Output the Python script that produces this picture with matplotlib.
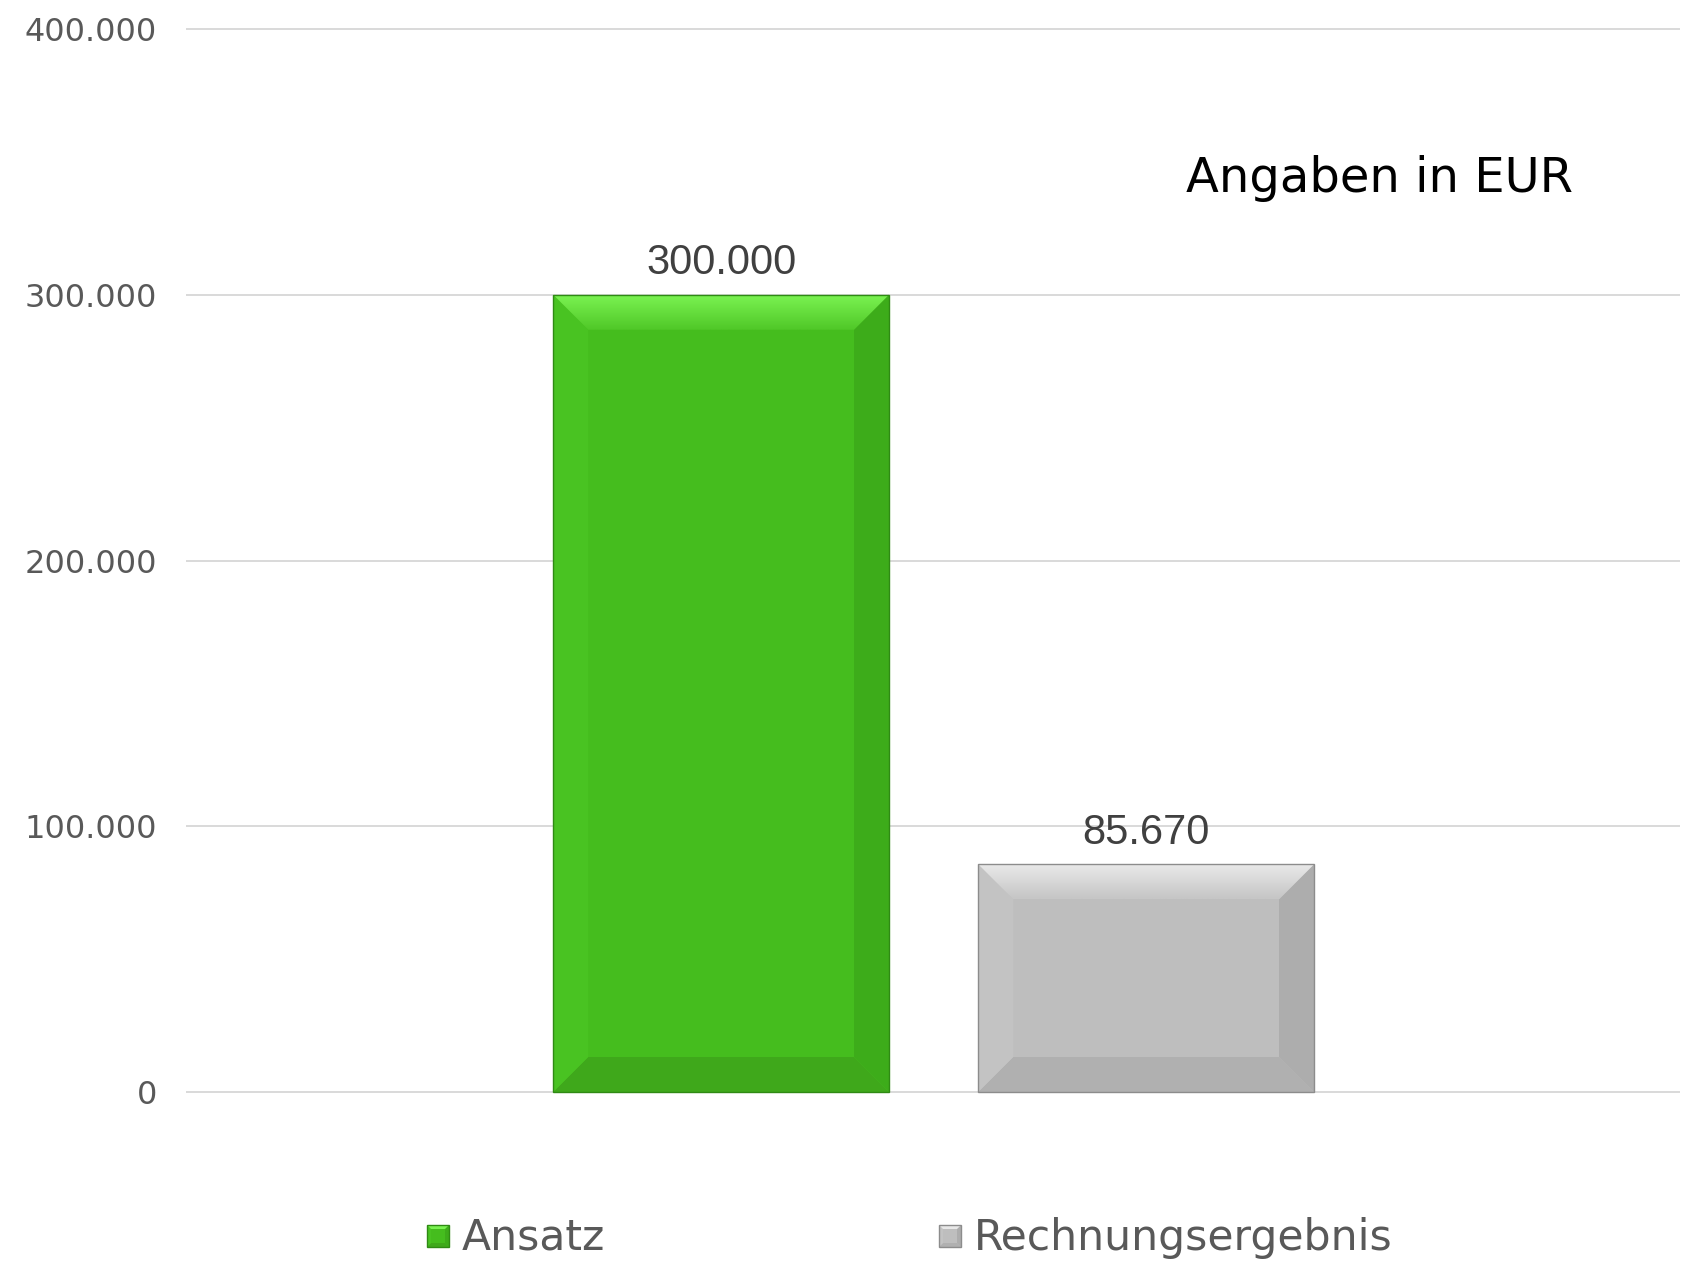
import numpy as np
import matplotlib.pyplot as plt
from matplotlib.colors import to_rgb
from matplotlib.patches import Polygon, Rectangle

series = ["Ansatz", "Rechnungsergebnis"]
values = [300000, 85670]
value_labels = ["300.000", "85.670"]
yticks = [0, 100000, 200000, 300000, 400000]
ytick_labels = ["0", "100.000", "200.000", "300.000", "400.000"]
unit_note = "Angaben in EUR"

# facet colours: center, top edge, top inner, bottom, left, right, outline
palettes = [
    ("#45bd1e", "#7af251", "#50c828", "#3fa81b", "#49c322", "#3dac1a", "#2f8a14"),
    ("#bebebe", "#e8e8e8", "#c6c6c6", "#b0b0b0", "#c3c3c3", "#adadad", "#8c8c8c"),
]

W, H = 1697, 1261
fig = plt.figure(figsize=(W / 100, H / 100), dpi=100)
plt.rcParams['font.family'] = ['DejaVu Sans']

# axes placement in pixels
x_left, x_right = 186, 1680
y_zero, y_top = 1092, 29
pad = 0.01
span = y_zero - y_top
ax = fig.add_axes([x_left / W, (H - y_zero - span * pad) / H,
                   (x_right - x_left) / W, span * (1 + 2 * pad) / H])
ax.set_ylim(-yticks[-1] * pad, yticks[-1] * (1 + pad))
ax.set_xlim(-1.259, 2.256)
ax.autoscale(False)

for s in ax.spines.values():
    s.set_visible(False)
ax.set_xticks([])
ax.set_yticks(yticks)
ax.set_yticklabels(ytick_labels, fontsize=23, color="#595959")
ax.tick_params(axis="y", length=0, pad=21)
ax.yaxis.grid(True, color="#d9d9d9", lw=1.4)
ax.set_axisbelow(True)

fig.canvas.draw()
inv = ax.transData.inverted()
p0 = inv.transform((0, 0))
p1 = inv.transform((35, 35))
bx, by = p1[0] - p0[0], p1[1] - p0[1]


def bevel(ax, x0, x1, y0, y1, bx, by, pal, z=2, grad=True):
    c, top_e, top_i, bot, lft, rgt, edge = pal
    ix0, ix1, iy0, iy1 = x0 + bx, x1 - bx, y0 + by, y1 - by
    ax.add_patch(Rectangle((x0, y0), x1 - x0, y1 - y0, fc=c, ec="none", zorder=z))
    ax.add_patch(Polygon([(x0, y0), (x1, y0), (ix1, iy0), (ix0, iy0)], fc=bot, ec="none", zorder=z + 1))
    ax.add_patch(Polygon([(x0, y0), (x0, y1), (ix0, iy1), (ix0, iy0)], fc=lft, ec="none", zorder=z + 1))
    ax.add_patch(Polygon([(x1, y0), (x1, y1), (ix1, iy1), (ix1, iy0)], fc=rgt, ec="none", zorder=z + 1))
    top = Polygon([(x0, y1), (x1, y1), (ix1, iy1), (ix0, iy1)], fc=top_e if not grad else "none",
                  ec="none", zorder=z + 1)
    ax.add_patch(top)
    if grad:
        t = np.linspace(0, 1, 32)[:, None]
        g = (1 - t) * np.array(to_rgb(top_i)) + t * np.array(to_rgb(top_e))
        im = ax.imshow(g[:, None, :], extent=(x0, x1, iy1, y1), origin="lower",
                       aspect="auto", interpolation="bilinear", zorder=z + 1)
        im.set_clip_path(top)
    ax.add_patch(Rectangle((x0, y0), x1 - x0, y1 - y0, fc="none", ec=edge, lw=1.0, zorder=z + 2))


width = 0.79
for i, (v, lab) in enumerate(zip(values, value_labels)):
    bevel(ax, i - width / 2, i + width / 2, 0, v, bx, by, palettes[i])
    ax.annotate(lab, (i, v), xytext=(0, 8.5), textcoords="offset points",
                ha="center", va="bottom", fontsize=30, color="#404040",
                family=["Liberation Sans", "DejaVu Sans"])

fig.text(1186 / W, 1 - 178 / H, unit_note, fontsize=34.6, color="black",
         ha="left", va="center")

# legend drawn by hand with bevelled swatches (y axis runs downward here)
lax = fig.add_axes([0, 0, 1, 1], zorder=-1)
lax.set_xlim(0, W)
lax.set_ylim(H, 0)
lax.axis("off")
for (sx, tx), name, pal in zip([(427, 462), (939, 974)], series, palettes):
    bevel(lax, sx, sx + 22, 1247, 1225, 4, -4, pal, grad=False)
    lax.text(tx, 1238, name, fontsize=30.6, color="#595959", ha="left", va="center")

fig.savefig("out.png", dpi=100)
